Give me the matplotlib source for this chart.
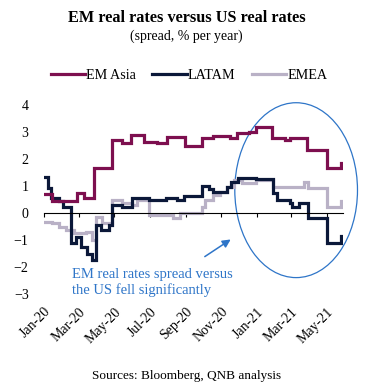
#!/usr/bin/env python3
"""EM real rates versus US real rates (spread, % per year)."""
import pandas as pd
import matplotlib
matplotlib.use("Agg")
import matplotlib.pyplot as plt
import matplotlib.dates as mdates
from matplotlib.patches import Ellipse

plt.rcParams["font.family"] = ["Liberation Serif", "DejaVu Serif"]

# step points (value holds until the next date)
ASIA_DATES = ["2020-01-01", "2020-01-15", "2020-02-27", "2020-03-10", "2020-03-27",
              "2020-04-27", "2020-05-14", "2020-05-30", "2020-06-21", "2020-07-14",
              "2020-07-31", "2020-08-31", "2020-09-28", "2020-10-17", "2020-11-15",
              "2020-11-27", "2020-12-19", "2020-12-31", "2021-01-26", "2021-02-18",
              "2021-02-26", "2021-03-28", "2021-05-01", "2021-05-26", "2021-05-29"]
ASIA_VALUES = [0.71, 0.45, 0.75, 0.56, 1.68,
               2.70, 2.60, 2.91, 2.63, 2.58,
               2.82, 2.50, 2.78, 2.84, 2.80,
               2.98, 3.02, 3.20, 2.80, 2.72,
               2.80, 2.35, 1.66, 1.87, 1.87]

LATAM_DATES = ["2020-01-01", "2020-01-08", "2020-01-13", "2020-01-27", "2020-02-03",
               "2020-02-17", "2020-02-25", "2020-03-05", "2020-03-15", "2020-03-24",
               "2020-03-31", "2020-04-08", "2020-04-22", "2020-04-27", "2020-05-14",
               "2020-06-01", "2020-06-30", "2020-07-29", "2020-08-16", "2020-08-29",
               "2020-09-28", "2020-10-11", "2020-10-17", "2020-11-11", "2020-11-18",
               "2020-11-29", "2020-12-31", "2021-01-28", "2021-02-05", "2021-02-26",
               "2021-03-03", "2021-03-14", "2021-03-29", "2021-05-01", "2021-05-26",
               "2021-05-29"]
LATAM_VALUES = [1.34, 0.93, 0.55, 0.45, 0.22,
                -1.12, -0.90, -1.27, -1.50, -1.75,
                -0.45, -0.63, -0.45, 0.30, 0.22,
                0.56, 0.48, 0.56, 0.48, 0.62,
                1.00, 0.90, 0.78, 0.97, 1.16,
                1.30, 1.28, 0.75, 0.48, 0.37,
                0.22, 0.37, -0.19, -1.10, -0.85,
                -0.85]

EMEA_DATES = ["2020-01-01", "2020-01-15", "2020-01-27", "2020-02-08", "2020-02-22",
              "2020-03-13", "2020-03-24", "2020-03-31", "2020-04-10", "2020-04-27",
              "2020-05-14", "2020-06-01", "2020-06-09", "2020-06-30", "2020-08-09",
              "2020-08-21", "2020-09-28", "2020-10-03", "2020-10-17", "2020-10-29",
              "2020-11-11", "2020-11-23", "2020-12-06", "2020-12-31", "2021-01-28",
              "2021-03-22", "2021-03-29", "2021-05-01", "2021-05-26", "2021-05-29"]
EMEA_VALUES = [-0.33, -0.38, -0.52, -0.63, -0.75,
               -0.70, -1.00, -0.15, -0.38, 0.48,
               0.37, 0.30, 0.48, -0.07, -0.19,
               0.00, 0.22, 0.48, 0.67, 0.78,
               0.97, 1.23, 1.12, 1.23, 0.95,
               1.16, 0.93, 0.22, 0.45, 0.45]

TICK_DATES = pd.date_range("2020-01-01", "2021-05-01", freq="2MS")

COLORS = {"EM Asia": "#7D0F4F", "LATAM": "#0B1839", "EMEA": "#B9B1C6"}
BLUE = "#2E75C8"


def main():
    fig = plt.figure(figsize=(3.75, 3.91), dpi=100)
    ax = fig.add_axes([0.117, 0.248, 0.798, 0.483])

    series = [("EM Asia", ASIA_DATES, ASIA_VALUES),
              ("LATAM", LATAM_DATES, LATAM_VALUES),
              ("EMEA", EMEA_DATES, EMEA_VALUES)]
    for name, dates, values in reversed(series):
        ax.plot(pd.to_datetime(dates), values, drawstyle="steps-post",
                color=COLORS[name], linewidth=2.3, label=name,
                solid_joinstyle="miter")

    ax.set_xlim(pd.Timestamp("2020-01-01"), pd.Timestamp("2021-05-29"))
    ax.set_ylim(-3, 4)
    ax.set_yticks(range(-3, 5))
    ax.tick_params(axis="y", length=0, pad=11, labelsize=10)

    for side in ["left", "right", "top"]:
        ax.spines[side].set_visible(False)
    ax.spines["bottom"].set_position(("data", 0))
    ax.spines["bottom"].set_linewidth(0.8)
    ax.set_xticks(TICK_DATES)
    ax.tick_params(axis="x", direction="out", length=3, width=0.8,
                   labelbottom=False)

    sec = ax.secondary_xaxis("bottom")
    sec.set_xticks(TICK_DATES)
    sec.xaxis.set_major_formatter(mdates.DateFormatter("%b-%y"))
    sec.tick_params(length=0, pad=8, labelsize=10)
    sec.spines["bottom"].set_visible(False)
    for lbl in sec.get_xticklabels():
        lbl.set_rotation(45)
        lbl.set_ha("right")
        lbl.set_va("top")
        lbl.set_rotation_mode("anchor")

    # callout
    ax.add_patch(Ellipse((0.843, 0.55), 0.41, 0.926, transform=ax.transAxes,
                         fill=False, edgecolor=BLUE, linewidth=0.9,
                         clip_on=False))
    ax.annotate("", xy=(0.632, 0.297), xytext=(0.53, 0.19),
                xycoords="axes fraction", textcoords="axes fraction",
                arrowprops=dict(arrowstyle="-|>", color=BLUE, lw=1.1,
                                mutation_scale=12))
    ax.text(0.094, 0.14, "EM real rates spread versus\nthe US fell significantly",
            transform=ax.transAxes, color=BLUE, fontsize=10.5, va="top",
            ha="left", linespacing=1.25)

    fig.text(0.497, 0.955, "EM real rates versus US real rates",
             ha="center", va="center", fontsize=11.7, fontweight="bold")
    fig.text(0.497, 0.908, "(spread, % per year)", ha="center", va="center",
             fontsize=10)

    handles, labels = ax.get_legend_handles_labels()
    fig.legend(handles[::-1], labels[::-1], loc="center", ncol=3,
               bbox_to_anchor=(0.504, 0.806), frameon=False, fontsize=10.2,
               handlelength=2.45, handletextpad=0.05, columnspacing=1.15)

    fig.text(0.497, 0.038, "Sources: Bloomberg, QNB analysis", ha="center",
             va="center", fontsize=9.5)

    fig.savefig("out.png", dpi=100)


if __name__ == "__main__":
    main()
